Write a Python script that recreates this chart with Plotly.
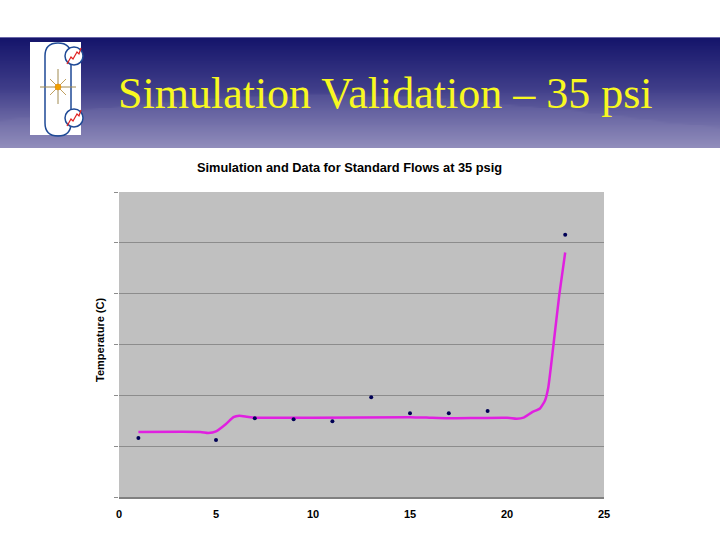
import plotly.graph_objects as go
import numpy as np

# ---- data (y in gridline units, 10 per gridline) ----
flow_data = [1, 5, 7, 9, 11, 13, 15, 17, 19, 23]
temp_data = [11.6, 11.2, 15.5, 15.3, 14.9, 19.6, 16.5, 16.5, 16.9, 51.6]

flow_sim = [1.0, 4.2, 4.6, 5.0, 5.5, 5.9, 6.2, 6.6, 7.0, 10.0, 15.0, 16.0, 17.0, 20.0,
            20.5, 20.85, 21.3, 21.7, 21.96, 22.13, 22.4, 22.7, 23.0]
temp_sim = [12.8, 12.8, 12.6, 12.9, 14.3, 15.7, 16.0, 15.8, 15.6, 15.6, 15.7, 15.6, 15.5, 15.6,
            15.4, 15.6, 16.7, 17.4, 19.0, 21.6, 30.1, 39.9, 48.1]

x_ticks = [0, 5, 10, 15, 20, 25]

W, H = 720, 540
def px(x): return x / W
def py(y): return (H - y) / H

fig = go.Figure()

# ---- banner gradient (decorative) ----
bx = np.linspace(0, 720, 73)
by = np.linspace(37, 148, 60)
Z = []
for yy in by:
    row = []
    for xx in bx:
        t = (yy - 37) / (148 - 37)
        c = 120 - 25 * np.sin((xx / 720) * np.pi * 1.1)
        wave = 0.12 if yy > c else 0.0
        row.append(min(1.0, t + wave * (1 - t)))
    Z.append(row)
fig.add_trace(go.Heatmap(x=bx, y=by, z=Z, xaxis="x2", yaxis="y2", showscale=False,
                         zsmooth="best", hoverinfo="skip",
                         colorscale=[[0, "#14146a"], [0.45, "#3e3c88"], [1, "#928ebc"]],
                         zmin=0, zmax=1))

# ---- chart traces ----
fig.add_trace(go.Scatter(x=flow_sim, y=temp_sim, mode="lines",
                         line=dict(color="#e020e0", width=2.5, shape="spline", smoothing=0.5),
                         showlegend=False))
fig.add_trace(go.Scatter(x=flow_data, y=temp_data, mode="markers",
                         marker=dict(color="#000055", size=4, symbol="circle"), showlegend=False))

shapes = []
shapes.append(dict(type="line", xref="paper", yref="paper", x0=0, x1=1, y0=py(37.5), y1=py(37.5),
                   line=dict(color="#6a68a8", width=1)))
shapes.append(dict(type="rect", xref="paper", yref="paper", x0=px(30), x1=px(81), y0=py(135), y1=py(42),
                   fillcolor="white", line=dict(width=0)))
x0, x1, y0, y1, r = 45, 71, 43, 136, 13
path = (f"M {px(x0)},{py(y0+r)} L {px(x0)},{py(y1-r)} "
        f"Q {px(x0)},{py(y1)} {px((x0+x1)/2)},{py(y1)} "
        f"Q {px(x1)},{py(y1)} {px(x1)},{py(y1-r)} L {px(x1)},{py(y0+r)} "
        f"Q {px(x1)},{py(y0)} {px((x0+x1)/2)},{py(y0)} "
        f"Q {px(x0)},{py(y0)} {px(x0)},{py(y0+r)} Z")
shapes.append(dict(type="path", xref="paper", yref="paper", path=path, line=dict(color="#1f4a96", width=1.5)))
cx, cy = 58, 87
shapes.append(dict(type="line", xref="paper", yref="paper", x0=px(40), x1=px(76), y0=py(cy), y1=py(cy),
                   line=dict(color="#a08a50", width=1)))
shapes.append(dict(type="line", xref="paper", yref="paper", x0=px(cx), x1=px(cx), y0=py(69), y1=py(104),
                   line=dict(color="#a08a50", width=1)))
for dx, dy in [(8, 8), (8, -8)]:
    shapes.append(dict(type="line", xref="paper", yref="paper", x0=px(cx-dx), x1=px(cx+dx),
                       y0=py(cy-dy), y1=py(cy+dy), line=dict(color="#c0a060", width=1)))
shapes.append(dict(type="circle", xref="paper", yref="paper", x0=px(cx-3), x1=px(cx+3), y0=py(cy+3), y1=py(cy-3),
                   fillcolor="#f0a000", line=dict(color="#e08000", width=0.5)))
for ccy in [56, 118]:
    shapes.append(dict(type="circle", xref="paper", yref="paper", x0=px(74-9), x1=px(74+9),
                       y0=py(ccy+9), y1=py(ccy-9), fillcolor="white", line=dict(color="#1f4a96", width=1.5)))
    zz = [(67, ccy+8), (71, ccy+1), (73, ccy+3), (77, ccy-4), (79, ccy-2), (81, ccy-8)]
    p = "M " + " L ".join(f"{px(a)},{py(b)}" for a, b in zz)
    shapes.append(dict(type="path", xref="paper", yref="paper", path=p, line=dict(color="#e02020", width=1.2)))

annotations = [
    dict(text="Simulation Validation – 35 psi", xref="paper", yref="paper", x=px(116), y=py(94),
         xanchor="left", yanchor="middle", showarrow=False,
         font=dict(family="Liberation Serif", size=44, color="#f8f820")),
    dict(text="<b>Simulation and Data for Standard Flows at 35 psig</b>", xref="paper", yref="paper",
         x=px(349.5), y=py(167), xanchor="center", yanchor="middle", showarrow=False,
         font=dict(family="Liberation Sans", size=12.8, color="black")),
    dict(text="<b>Temperature (C)</b>", xref="paper", yref="paper", x=px(100), y=py(340),
         xanchor="center", yanchor="middle", showarrow=False, textangle=-90,
         font=dict(family="Liberation Sans", size=11, color="black")),
]

fig.update_layout(
    width=W, height=H,
    margin=dict(l=0, r=0, t=0, b=0),
    paper_bgcolor="white",
    plot_bgcolor="#c0c0c0",
    showlegend=False,
    shapes=shapes,
    annotations=annotations,
    xaxis=dict(domain=[px(119), px(604)], range=[0, 25], tickvals=x_ticks, ticktext=[str(v) for v in x_ticks],
               showgrid=False, zeroline=False, showline=True, linecolor="#808080", linewidth=1.5,
               ticks="", automargin=False, ticklabelstandoff=6,
               tickfont=dict(family="Liberation Sans", size=11, color="black", weight="bold")),
    yaxis=dict(domain=[py(497), py(192)], range=[0, 60], dtick=10, showticklabels=False,
               showgrid=True, gridcolor="#8c8c8c", gridwidth=1, zeroline=False,
               ticks="outside", ticklen=4, tickcolor="#8c8c8c", showline=False, automargin=False),
    xaxis2=dict(domain=[0, 1], range=[0, 720], visible=False, anchor="y2"),
    yaxis2=dict(domain=[py(148), py(37)], range=[148, 37], visible=False, anchor="x2"),
)

fig.write_html("out.html", config={"displayModeBar": False},
               post_script="document.body.style.margin='0';document.body.style.overflow='hidden';")
